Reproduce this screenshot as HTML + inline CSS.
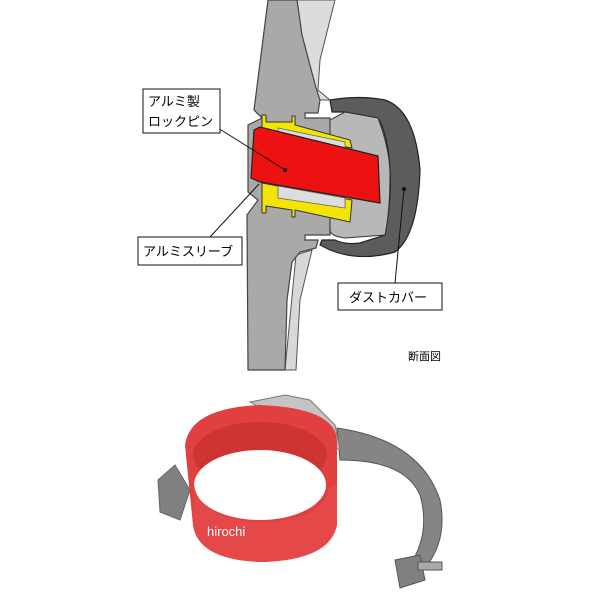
<!DOCTYPE html>
<html><head><meta charset="utf-8"><style>
html,body{margin:0;padding:0;background:#fff;}
svg{display:block}
text{font-family:"Liberation Sans","Noto Sans CJK JP",sans-serif;}
</style></head><body>
<svg width="600" height="600" viewBox="0 0 600 600" xmlns="http://www.w3.org/2000/svg">
<rect width="600" height="600" fill="#fff"/>
<path d="M296,0 L335,0 L320,60 L318,90 L330,100 L312,100 L300,50 Z" fill="#dcdcdc" stroke="#555" stroke-width="1"/>
<path d="M296,255 L312,250 L300,300 L296,370 L285,370 Z" fill="#d8d8d8" stroke="#555" stroke-width="1"/>
<path d="M268,0 L297,0 L302,35 L316,88 L320,100 L318,113 L305,113 L305,118 L330,118 L330,235 L305,235 L305,240 L318,240 L316,248 L300,252 L292,262 L287,300 L285,370 L248,370 L247,215 L258,200 L248,192 L248,125 L262,118 L254,110 Z" fill="#a9a9a9" stroke="#444" stroke-width="1.2"/>
<path d="M330,100 Q360,95 385,100 Q415,110 420,170 Q418,235 395,252 Q360,262 330,250 L320,245 L322,240 L335,240 Q345,245 360,243 L385,235 Q392,195 390,170 Q388,135 378,118 L345,112 L332,112 Z" fill="#5c5c5c" stroke="#222" stroke-width="1.2"/>
<path d="M345,112 L378,118 Q390,150 390,175 Q390,210 385,235 L345,238 Q330,236 330,230 L330,120 Z" fill="#b8b8b8" stroke="#333" stroke-width="1"/>
<circle cx="404" cy="189" r="2" fill="#111"/>
<path d="M262,115 L266,115 L266,122 L292,122 L292,116 L295,116 L295,125 L350,140 L352,148 L262,132 Z" fill="#f2e600" stroke="#333" stroke-width="1"/>
<path d="M262,183 L352,200 L350,222 L295,210 L295,217 L292,217 L292,210 L266,206 L266,213 L262,213 Z" fill="#f2e600" stroke="#333" stroke-width="1"/>
<path d="M278,128 L345,142 L345,153 L278,140 Z" fill="#ddd" stroke="#666" stroke-width="0.8"/>
<path d="M278,186 L345,198 L345,208 L278,198 Z" fill="#ddd" stroke="#666" stroke-width="0.8"/>
<path d="M254,130 L260,127 L378,156 L380,203 L260,182 L251,178 Z" fill="#ee1111" stroke="#222" stroke-width="1.2"/>
<circle cx="285" cy="170" r="2" fill="#111"/>
<line x1="218" y1="128" x2="285" y2="170" stroke="#111" stroke-width="1"/>
<line x1="210" y1="237" x2="259" y2="184" stroke="#111" stroke-width="1"/>
<line x1="395" y1="283" x2="404" y2="189" stroke="#111" stroke-width="1"/>
<rect x="143" y="89" width="77" height="44" fill="#fff" stroke="#111" stroke-width="1"/>
<text x="148" y="106" font-size="13">アルミ製</text>
<text x="148" y="126" font-size="13">ロックピン</text>
<rect x="138" y="237" width="104" height="28" fill="#fff" stroke="#111" stroke-width="1"/>
<text x="143" y="256" font-size="13">アルミスリーブ</text>
<rect x="338" y="283" width="104" height="27" fill="#fff" stroke="#111" stroke-width="1"/>
<text x="349" y="302" font-size="13">ダストカバー</text>
<text x="408" y="360" font-size="11">断面図</text>
<path d="M337,428 Q420,440 440,500 Q448,540 425,568 L413,560 Q430,530 420,495 Q405,460 340,460 Z" fill="#858585" stroke="#555" stroke-width="1"/>
<path d="M395,560 L420,555 L425,580 L400,588 Z" fill="#808080" stroke="#555"/>
<rect x="418" y="562" width="24" height="8" fill="#aaa" stroke="#555"/>
<path d="M250,402 L285,395 L310,400 L335,425 L340,450 L320,440 Z" fill="#c4c4c4" stroke="#777"/>
<path d="M158,480 L175,465 L190,490 L180,520 L160,512 Z" fill="#808080" stroke="#666"/>
<path d="M185,445 Q190,408 260,405 Q335,408 337,440 L337,525 Q330,560 262,562 Q198,560 193,525 Z" fill="#e04040"/>
<ellipse cx="260" cy="455" rx="67" ry="33" fill="#cf3434"/>
<ellipse cx="260" cy="485" rx="66" ry="35" fill="#fff"/>
<path d="M194,485 Q200,520 262,522 Q326,520 330,485 L337,485 L337,525 Q330,560 262,562 Q198,560 193,525 Z" fill="#e44848"/>
<text x="207" y="536" font-size="13" fill="#fff">hirochi</text>
</svg>
</body></html>
